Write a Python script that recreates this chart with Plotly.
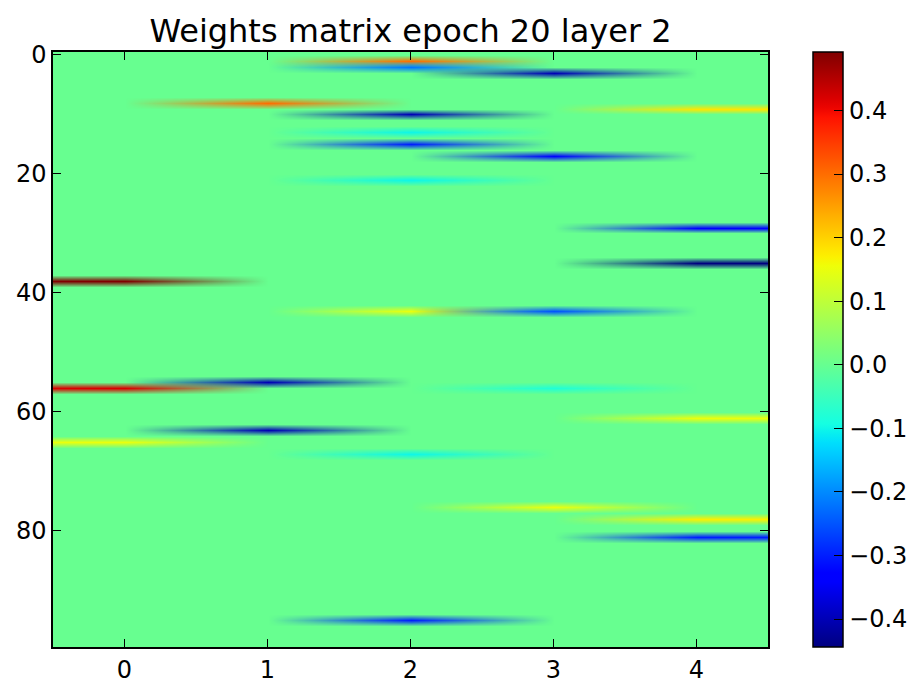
import numpy as np
import plotly.graph_objects as go

# ---- data: sparse non-zero weights (row, column, value) of a 100 x 5 matrix ----
n_rows = 100
n_cols = 5
rows = [1, 2, 3, 8, 9, 10, 13, 15, 17, 21, 29, 35, 38, 43, 43, 55, 56, 56, 61, 63, 65, 67, 76, 78, 81, 95]
cols = [2, 2, 3, 1, 4, 2, 2, 2, 3, 2, 4, 4, 0, 2, 3, 1, 0, 3, 4, 1, 0, 2, 3, 4, 4, 2]
vals = [0.30, -0.22, -0.40, 0.30, 0.18, -0.40, -0.10, -0.30, -0.33, -0.10, -0.33, -0.444,
        0.492, 0.15, -0.25, -0.40, 0.42, -0.08, 0.15, -0.40, 0.15, -0.10, 0.15, 0.17, -0.30, -0.30]
x_ticks = [0, 1, 2, 3, 4]
y_ticks = [0, 20, 40, 60, 80]
cbar_ticks = [0.4, 0.3, 0.2, 0.1, 0.0, -0.1, -0.2, -0.3, -0.4]
zmin, zmax = -0.444, 0.492
title = "Weights matrix epoch 20 layer 2"

# matplotlib "jet" colormap
jet = {
    "r": [(0, 0), (0.35, 0), (0.66, 1), (0.89, 1), (1, 0.5)],
    "g": [(0, 0), (0.125, 0), (0.375, 1), (0.64, 1), (0.91, 0), (1, 0)],
    "b": [(0, 0.5), (0.11, 1), (0.34, 1), (0.65, 0), (1, 0)],
}
def jet_rgb(t):
    out = []
    for k in "rgb":
        xs = [p[0] for p in jet[k]]; ys = [p[1] for p in jet[k]]
        out.append(int(round(255 * float(np.interp(t, xs, ys)))))
    return out

cscale = []
for t in np.linspace(0, 1, 65):
    r, g, b = jet_rgb(t)
    cscale.append([float(t), f"rgb({r},{g},{b})"])

font = "DejaVu Sans"
xs_idx = list(range(n_cols))
ys_idx = list(range(n_rows))

# background: the zero entries of the matrix (carries the colorbar)
z_base = np.zeros((n_rows, n_cols))
traces = [go.Heatmap(
    z=z_base, x=xs_idx, y=ys_idx,
    colorscale=cscale, zmin=zmin, zmax=zmax, zsmooth="best",
    colorbar=dict(
        x=1.063, xanchor="left", xpad=0, ypad=0, y=0.5, yanchor="middle",
        len=1, lenmode="fraction", thickness=30, thicknessmode="pixels",
        outlinecolor="black", outlinewidth=1.5,
        tickvals=cbar_ticks, tickformat=".1f", ticks="inside", ticklen=9,
        tickcolor="black", tickfont=dict(family=font, size=24, color="black"),
    ),
    hoverinfo="skip",
)]

# each non-zero weight: colour-mapped cell, blended in RGB towards the background
# (as matplotlib's bilinear image interpolation does after colour mapping)
for r, c, v in zip(rows, cols, vals):
    zk = np.zeros((n_rows, n_cols))
    zk[r, c] = abs(v)
    R, G, B = jet_rgb((v - zmin) / (zmax - zmin))
    traces.append(go.Heatmap(
        z=zk, x=xs_idx, y=ys_idx, zmin=0, zmax=abs(v), zsmooth="best",
        colorscale=[[0, f"rgba({R},{G},{B},0)"], [1, f"rgba({R},{G},{B},1)"]],
        showscale=False, hoverinfo="skip",
    ))

fig = go.Figure(traces)

axis_common = dict(
    showline=True, linecolor="black", linewidth=1.5, mirror="ticks",
    ticks="inside", ticklen=8, tickcolor="black", showgrid=False, zeroline=False,
    tickfont=dict(family=font, size=24, color="black"),
)
fig.update_layout(
    width=915, height=677,
    margin=dict(l=45, r=155, t=44, b=38, autoexpand=False),
    paper_bgcolor="white", plot_bgcolor="white",
    title=dict(text=title, x=0.5, xref="paper", xanchor="center", y=0.966, yanchor="middle",
               font=dict(family=font, size=32, color="black")),
    xaxis=dict(range=[-0.5, 4.5], tickvals=x_ticks, **axis_common),
    yaxis=dict(range=[99.5, -0.5], tickvals=y_ticks, **axis_common),
)
fig.write_html("out.html")
